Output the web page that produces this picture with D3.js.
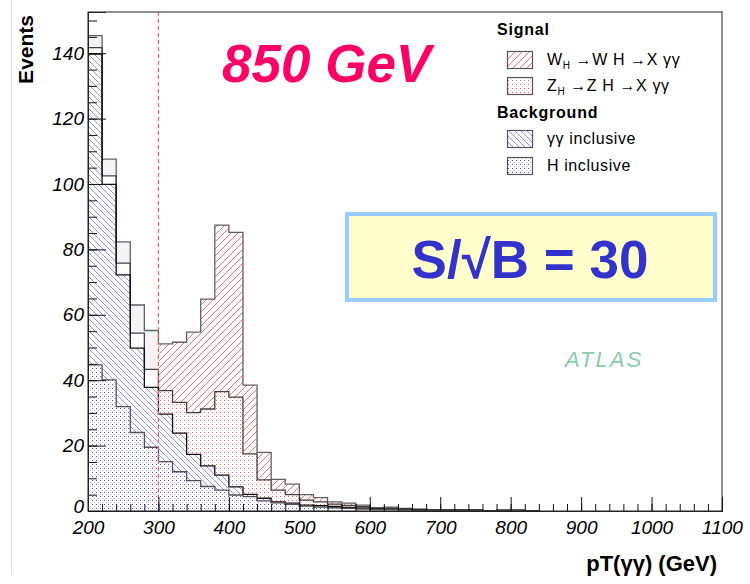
<!DOCTYPE html>
<html>
<head>
<meta charset="utf-8">
<script src="https://cdn.jsdelivr.net/npm/d3@7"></script>
<style>
  body { margin: 0; background: #fff; }
  svg text { font-family: "Liberation Sans", Arial, sans-serif; }
</style>
</head>
<body>
<div id="chart"></div>
<script>
// bins of 20 GeV starting at 200 GeV
const binStart = 200, binWidth = 20;
const binLow = d3.range(32).map(i => binStart + i * binWidth);

// per-bin contents of each stacked histogram (bottom to top)
const hInclusive  = [44.7, 40.1, 31.9, 24.0, 19.5, 15.1, 12.0, 9.3, 7.5, 6.4, 4.9, 4.4, 3.1, 2.5, 2.0, 1.5, 1.2, 1.0, 0.8, 0.6, 0.4, 0.4, 0.3, 0.2, 0.1, 0.1, 0.1, 0.1, 0, 0.1, 0.1, 0];
const ggInclusive = [95.0, 59.8, 40.3, 25.8, 18.3, 14.5, 11.8, 8.0, 6.3, 4.6, 2.5, 0.7, 0.8, 0.3, 0.4, 0.3, 0.4, 0.4, 0.3, 0.3, 0.2, 0.2, 0.2, 0.1, 0.1, 0.1, 0.1, 0.1, 0, 0.1, 0.1, 0];
const zhSignal    = [2.0, 2.6, 3.6, 4.6, 5.5, 7.2, 9.4, 12.8, 17.4, 25.5, 27.4, 12.4, 5.6, 3.6, 2.6, 1.5, 1.2, 0.7, 0.6, 0.4, 0.2, 0.3, 0.2, 0.2, 0.1, 0.1, 0.1, 0.1, 0, 0, 0, 0];
const whSignal    = [3.7, 5.1, 6.5, 8.6, 11.9, 14.3, 18.4, 24.6, 33.6, 50.9, 50.4, 21.0, 8.4, 3.3, 3.2, 1.7, 1.3, 0.7, 0.7, 0.5, 0.2, 0.3, 0.1, 0.1, 0.1, 0.1, 0.1, 0.1, 0, 0.1, 0.1, 0];

const xTicks = d3.range(200, 1101, 100);
const yTicks = d3.range(0, 141, 20);
const ptCut = 300;

const width = 750, height = 584;
const margin = { top: 12, right: 28, bottom: 73, left: 88 };
const plotW = width - margin.left - margin.right;
const plotH = height - margin.top - margin.bottom;

const table = binLow.map((lo, i) => ({
  lo: lo,
  h: hInclusive[i],
  gg: ggInclusive[i],
  zh: zhSignal[i],
  wh: whSignal[i]
}));

const keys = ["h", "gg", "zh", "wh"];
const layers = d3.stack().keys(keys)(table);

const x = d3.scaleLinear().domain([200, 1100]).range([0, plotW]);
const y = d3.scaleLinear().domain([0, 152.6]).range([plotH, 0]);

const svg = d3.select("#chart").append("svg")
  .attr("width", width)
  .attr("height", height);

// faint page border on the left
svg.append("line")
  .attr("x1", 11.5).attr("x2", 11.5)
  .attr("y1", 0).attr("y2", 575)
  .attr("stroke", "#e2e2e2");

const defs = svg.append("defs");

// W_H : red //// hatch
const pw = defs.append("pattern").attr("id", "pat-wh")
  .attr("patternUnits", "userSpaceOnUse").attr("width", 7).attr("height", 7);
pw.append("path").attr("d", "M-1,1 L1,-1 M0,7 L7,0 M6,8 L8,6")
  .attr("fill", "none").attr("stroke", "#ff4a4a").attr("stroke-width", 0.8);

// gamma gamma : blue \\\\ hatch
const pg = defs.append("pattern").attr("id", "pat-gg")
  .attr("patternUnits", "userSpaceOnUse").attr("width", 6).attr("height", 6);
pg.append("path").attr("d", "M-1,5 L1,7 M0,0 L6,6 M5,-1 L7,1")
  .attr("fill", "none").attr("stroke", "#5c5cff").attr("stroke-width", 0.7);

// dotted fills: a strong dot and a pale dot per tile
function dotPattern(id, strong, pale) {
  const p = defs.append("pattern").attr("id", id)
    .attr("patternUnits", "userSpaceOnUse").attr("width", 4).attr("height", 4);
  p.append("rect").attr("x", 0).attr("y", 0).attr("width", 1).attr("height", 1).attr("fill", strong);
  p.append("rect").attr("x", 2).attr("y", 2).attr("width", 1).attr("height", 1).attr("fill", pale);
}
dotPattern("pat-zh", "#ff5a5a", "#ffc4c4");
dotPattern("pat-h", "#4d4dff", "#bcbcff");

// clip regions before / after the pT cut
defs.append("clipPath").attr("id", "clip-pre").append("rect")
  .attr("x", 0).attr("y", -5).attr("width", x(ptCut)).attr("height", plotH + 10);
defs.append("clipPath").attr("id", "clip-post").append("rect")
  .attr("x", x(ptCut)).attr("y", -5).attr("width", plotW - x(ptCut)).attr("height", plotH + 10);

const g = svg.append("g").attr("transform", `translate(${margin.left},${margin.top})`);

// step points for each bin
function steps(layer) {
  const pts = [];
  layer.forEach(d => {
    pts.push({ x: d.data.lo, y0: d[0], y1: d[1] });
    pts.push({ x: d.data.lo + binWidth, y0: d[0], y1: d[1] });
  });
  return pts;
}

const area = d3.area()
  .x(d => x(d.x))
  .y0(d => y(d.y0))
  .y1(d => y(d.y1));

const line = d3.line()
  .x(d => x(d.x))
  .y(d => y(d.y1));

const style = {
  h:  { pre: "url(#pat-h)",  post: "url(#pat-h)",  stroke: "#505050" },
  gg: { pre: "url(#pat-gg)", post: "url(#pat-gg)", stroke: "#101010" },
  zh: { pre: "#ffffff",      post: "url(#pat-zh)", stroke: "#404040" },
  wh: { pre: "#f4f4f4",      post: "url(#pat-wh)", stroke: "#606060" }
};

layers.forEach(layer => {
  const pts = steps(layer);
  const s = style[layer.key];
  g.append("path").datum(pts)
    .attr("clip-path", "url(#clip-pre)")
    .attr("fill", s.pre)
    .attr("d", area);
  g.append("path").datum(pts)
    .attr("clip-path", "url(#clip-post)")
    .attr("fill", s.post)
    .attr("d", area);
});

// outlines, top layer first so lower ones stay crisp
layers.slice().reverse().forEach(layer => {
  const pts = steps(layer);
  g.append("path").datum(pts)
    .attr("fill", "none")
    .attr("stroke", style[layer.key].stroke)
    .attr("stroke-width", 1.3)
    .attr("d", line);
});

// cut line
g.append("line")
  .attr("x1", x(ptCut)).attr("x2", x(ptCut))
  .attr("y1", 0).attr("y2", plotH)
  .attr("stroke", "#ff5a5a")
  .attr("stroke-width", 1.2)
  .attr("stroke-dasharray", "4,3");

// frame
g.append("rect")
  .attr("x", 0).attr("y", 0)
  .attr("width", plotW).attr("height", plotH)
  .attr("fill", "none")
  .attr("stroke", "#222")
  .attr("stroke-width", 1);

// axes with inward ticks
const xMinor = g.append("g").attr("transform", `translate(0,${plotH})`)
  .call(d3.axisBottom(x).tickValues(d3.range(200, 1101, 20)).tickSize(-7).tickFormat(""));
const xMajor = g.append("g").attr("transform", `translate(0,${plotH})`)
  .call(d3.axisBottom(x).tickValues(xTicks).tickSize(-14).tickPadding(10).tickFormat(d3.format("d")));
const yMinor = g.append("g")
  .call(d3.axisLeft(y).tickValues(d3.range(0, 151, 5)).tickSize(-9).tickFormat(""));
const yMajor = g.append("g")
  .call(d3.axisLeft(y).tickValues(yTicks).tickSize(-18).tickPadding(4).tickFormat(d3.format("d")));

[xMinor, xMajor, yMinor, yMajor].forEach(ax => {
  ax.select(".domain").attr("stroke", "#222");
  ax.selectAll(".tick line").attr("stroke", "#111");
  ax.selectAll("text")
    .attr("font-family", "Liberation Sans, Arial, sans-serif")
    .attr("font-style", "italic")
    .attr("font-size", 19)
    .attr("fill", "#000");
});
// zero label sits a touch higher so it clears the 200 label
yMajor.selectAll(".tick text").filter(d => d === 0).attr("dy", "0.1em");

// axis titles
svg.append("text")
  .attr("transform", "translate(33,15) rotate(-90)")
  .attr("text-anchor", "end")
  .attr("font-weight", "bold")
  .attr("font-size", 21)
  .text("Events");

svg.append("text")
  .attr("x", 717).attr("y", 571)
  .attr("text-anchor", "end")
  .attr("font-weight", "bold")
  .attr("font-size", 22)
  .text("pT(γγ) (GeV)");

// mass label
svg.append("text")
  .attr("x", 222).attr("y", 82)
  .attr("font-weight", "bold")
  .attr("font-style", "italic")
  .attr("font-size", 53)
  .attr("fill", "#ff0066")
  .text("850 GeV");

// significance box
svg.append("rect")
  .attr("x", 347).attr("y", 214)
  .attr("width", 368).attr("height", 86)
  .attr("fill", "#ffffcc")
  .attr("stroke", "#99ccff")
  .attr("stroke-width", 4);
svg.append("text")
  .attr("x", 530).attr("y", 278)
  .attr("text-anchor", "middle")
  .attr("font-weight", "bold")
  .attr("font-size", 53)
  .attr("fill", "#3333cc")
  .text("S/√B = 30");

svg.append("text")
  .attr("x", 565).attr("y", 367)
  .attr("font-style", "italic")
  .attr("font-size", 22)
  .attr("letter-spacing", 2)
  .attr("fill", "#88ccaa")
  .text("ATLAS");

// legend
const legend = svg.append("g");
const legendHeads = [
  { text: "Signal", y: 35 },
  { text: "Background", y: 118 }
];
legend.selectAll("text.head").data(legendHeads).enter().append("text")
  .attr("class", "head")
  .attr("x", 497).attr("y", d => d.y)
  .attr("font-weight", "bold")
  .attr("font-size", 16)
  .attr("letter-spacing", 0.8)
  .text(d => d.text);

const legendItems = [
  { key: "wh", fill: "url(#pat-wh)", y: 51, label: ["W", "H", " →W H →X γγ"] },
  { key: "zh", fill: "url(#pat-zh)", y: 77, label: ["Z", "H", " →Z H →X γγ"] },
  { key: "gg", fill: "url(#pat-gg)", y: 130, label: ["γγ inclusive"] },
  { key: "h",  fill: "url(#pat-h)",  y: 157, label: ["H inclusive"] }
];
legend.selectAll("rect.sw").data(legendItems).enter().append("rect")
  .attr("class", "sw")
  .attr("x", 507.5).attr("y", d => d.y + 0.5)
  .attr("width", 25).attr("height", 17)
  .attr("fill", d => d.fill)
  .attr("stroke", "#555")
  .attr("stroke-width", 1.2);

legendItems.forEach(d => {
  const t = legend.append("text")
    .attr("x", 547).attr("y", d.y + 14)
    .attr("font-size", 16)
    .attr("letter-spacing", 0.6);
  if (d.label.length === 3) {
    t.append("tspan").text(d.label[0]);
    t.append("tspan").attr("font-size", 10).attr("dy", 4).text(d.label[1]);
    t.append("tspan").attr("dy", -4).text(d.label[2]);
  } else {
    t.text(d.label[0]);
  }
});
</script>
</body>
</html>
